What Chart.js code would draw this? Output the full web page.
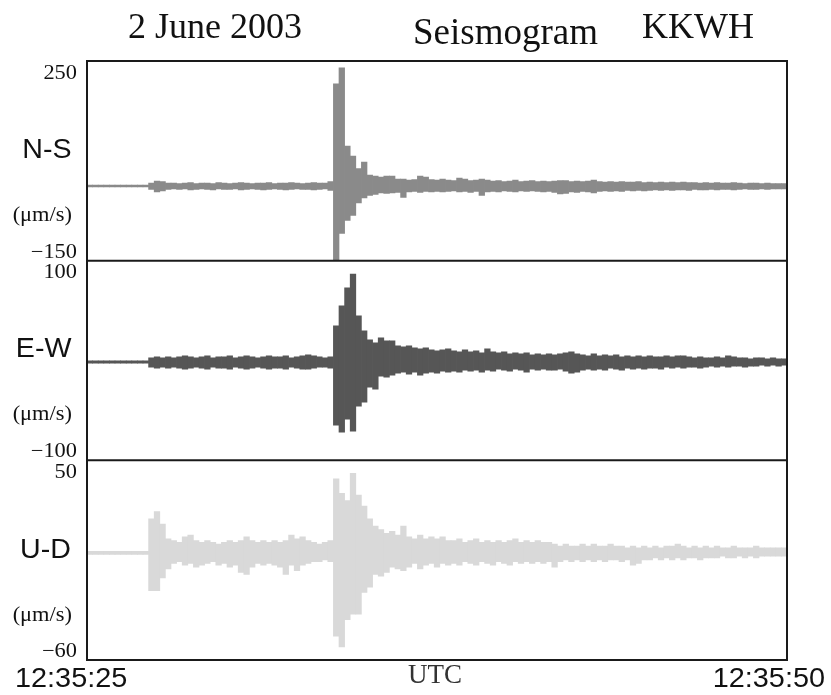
<!DOCTYPE html>
<html>
<head>
<meta charset="utf-8">
<title>Seismogram KKWH</title>
<script src="https://cdn.jsdelivr.net/npm/chart.js@4.4.0/dist/chart.umd.min.js"></script>
<style>
  html, body { margin: 0; padding: 0; background: #fff; }
  #wrap { position: relative; width: 831px; height: 695px; overflow: hidden; }
  #seis { position: absolute; left: 0; top: 0; }
  .lbl { position: absolute; white-space: nowrap; line-height: 1; color: #111; }
  .serif { font-family: "Liberation Serif", "Times New Roman", serif; }
  .sans { font-family: "Liberation Sans", Arial, sans-serif; }
  .comp { right: 760px; font-size: 27px; transform: scaleX(1.06); transform-origin: right top; }
  .unit { right: 759px; font-size: 20px; transform: scaleX(1.12); transform-origin: right top; }
  .time { font-size: 28px; top: 664px; transform: scaleX(1.03); }
</style>
</head>
<body>
<div id="wrap">
  <canvas id="seis" width="831" height="695"></canvas>

  <div class="lbl serif" style="left:128px; top:8px; font-size:36px;">2 June 2003</div>
  <div class="lbl serif" style="left:413px; top:13px; font-size:37px;">Seismogram</div>
  <div class="lbl serif" style="left:642px; top:8px; font-size:36px;">KKWH</div>

  <div class="lbl sans comp" style="top:136px;">N-S</div>
  <div class="lbl serif unit" style="top:204px;">(μm/s)</div>
  <div class="lbl sans comp" style="top:335px;">E-W</div>
  <div class="lbl serif unit" style="top:403px;">(μm/s)</div>
  <div class="lbl sans comp" style="top:536px;">U-D</div>
  <div class="lbl serif unit" style="top:604px;">(μm/s)</div>

  <div class="lbl sans time" id="tStart" style="left:15px; transform-origin:left top;"></div>
  <div class="lbl serif" id="tUnit" style="left:408px; top:661px; font-size:27px; color:#333;"></div>
  <div class="lbl sans time" id="tEnd" style="right:6px; transform-origin:right top;"></div>
</div>

<script>
// time axis: 12:35:25 -> 12:35:50, envelopes read in 0.2 s bins (125 bins)
const TIME_LABELS = ["12:35:25", "12:35:50"];
const TIME_TITLE = "UTC";

// y tick labels = axis limits (µm/s)
const NS_TICKS = [250, -150];
const EW_TICKS = [100, -100];
const UD_TICKS = [50, -60];

// N-S component: upper / lower envelope per bin
const NS_HI = [
  2,2,2,2,2,2,2,2,2,2,2,
  6,10,9,6,
  6,5,6,7,5,6,6,5,7,6, 5,6,7,6,5,6,6,7,5,6, 6,7,6,5,6,7,6,6,
  9,
  205,237,80,60,35,48,22,20,18,20,20,
  14,14,12,13,20,18,13,12,14,12, 11,16,14,11,12,14,12,10,11,9, 10,12,9,10,11,9,10,9,
  10,11,11,9,10,9,10,12,9,8, 9,8,9,8,8,9,7,8,7,8, 7,8,7,8,7,7,6,7,6,7, 6,6,7,6,5,6,6,5,6,5, 5,5
];
const NS_LO = [
  -3,-3,-3,-3,-3,-3,-3,-3,-3,-3,-3,
  -8,-13,-11,-8,
  -7,-8,-7,-9,-8,-7,-8,-9,-7,-8, -8,-7,-9,-8,-7,-8,-9,-8,-7,-8, -9,-8,-7,-8,-8,-9,-8,-7,
  -10,
  -150,-96,-70,-60,-35,-25,-20,-18,-15,-16,-15,
  -14,-24,-13,-12,-14,-12,-13,-12,-13,-12, -11,-13,-12,-14,-12,-20,-13,-12,-13,-11, -12,-13,-11,-12,-11,-12,-13,-12,
  -14,-17,-16,-13,-14,-12,-13,-15,-12,-11, -12,-11,-12,-10,-11,-10,-11,-10,-9,-10, -9,-10,-9,-9,-10,-8,-9,-9,-8,-9, -8,-8,-9,-8,-7,-8,-8,-7,-8,-7, -7,-7
];

// E-W component
const EW_HI = [
  0,0,0,0,0,0,0,0,0,0,0,
  3,4,3,4,
  3,4,5,4,3,4,5,3,4,4, 5,3,4,5,4,3,4,5,4,4, 5,3,4,5,6,5,4,3,
  4,
  35,55,73,87,45,30,21,18,23,20,20,
  15,14,15,13,12,13,11,10,11,12, 10,9,11,9,10,8,12,9,8,9, 7,8,7,8,6,7,6,7,
  6,7,8,9,7,6,5,7,5,6, 5,6,4,5,4,5,4,5,4,4, 5,4,5,5,4,3,4,3,3,4, 3,5,4,3,3,2,3,3,2,3, 2,2
];
const EW_LO = [
  -3,-3,-3,-3,-3,-3,-3,-3,-3,-3,-3,
  -7,-8,-7,-8,
  -7,-8,-9,-8,-7,-8,-9,-7,-8,-8, -9,-7,-8,-9,-8,-7,-8,-9,-8,-8, -9,-7,-8,-9,-9,-8,-7,-7,
  -8,
  -65,-72,-59,-71,-46,-42,-27,-29,-16,-17,-15,
  -13,-12,-14,-12,-15,-13,-12,-13,-11,-12, -11,-12,-10,-11,-10,-12,-10,-11,-9,-10, -11,-9,-10,-12,-9,-10,-9,-10,
  -10,-9,-11,-13,-12,-10,-9,-10,-9,-10, -8,-9,-10,-8,-9,-8,-9,-8,-8,-9, -7,-8,-7,-8,-7,-7,-8,-7,-6,-7, -6,-7,-6,-6,-7,-6,-6,-5,-6,-5, -6,-5
];

// U-D component
const UD_HI = [
  0,0,0,0,0,0,0,0,0,0,0,
  18,22,15,7,
  6,5,8,9,6,5,6,5,4,5, 6,5,6,8,6,5,6,5,6,5, 6,9,7,8,6,5,4,5,
  6,
  40,32,28,43,31,25,18,14,12,10,11,
  9,14,8,7,9,7,8,7,8,6, 6,7,5,6,7,5,6,5,6,5, 6,7,5,6,5,6,5,5,
  4,3,4,3,3,4,3,4,3,3, 4,3,3,2,3,2,3,2,3,2, 3,3,4,3,2,3,2,3,2,3, 2,2,3,2,2,2,3,2,2,2, 2,2
];
const UD_LO = [
  -2,-2,-2,-2,-2,-2,-2,-2,-2,-2,-2,
  -22,-22,-15,-10,
  -7,-6,-8,-7,-9,-8,-7,-6,-8,-7, -9,-8,-12,-13,-9,-7,-8,-7,-8,-9, -13,-8,-11,-8,-7,-6,-6,-5,
  -6,
  -47,-53,-38,-35,-35,-23,-20,-13,-14,-12,-9,
  -10,-11,-9,-7,-10,-8,-7,-9,-7,-8, -7,-8,-6,-7,-8,-6,-7,-8,-6,-7, -8,-6,-7,-6,-7,-6,-7,-6,
  -9,-6,-5,-6,-5,-6,-5,-6,-5,-6, -5,-5,-6,-5,-8,-7,-5,-5,-4,-5, -4,-5,-4,-5,-4,-4,-5,-4,-4,-4, -3,-4,-4,-3,-4,-3,-4,-3,-3,-3, -3,-3
];

const PANELS = [
  { axis: "yNS", ticks: NS_TICKS, hi: NS_HI, lo: NS_LO, color: "#8a8a8a", weight: 3 },
  { axis: "yEW", ticks: EW_TICKS, hi: EW_HI, lo: EW_LO, color: "#565656", weight: 2 },
  { axis: "yUD", ticks: UD_TICKS, hi: UD_HI, lo: UD_LO, color: "#d9d9d9", weight: 1 },
];

const BINS = NS_HI.map((_, i) => i);

function fmtTick(v) {
  return v < 0 ? "\u2212" + Math.abs(v) : String(v);
}

function yAxis(p) {
  return {
    type: "linear",
    position: "left",
    stack: "seis",
    stackWeight: 1,
    weight: p.weight,
    min: Math.min(...p.ticks),
    max: Math.max(...p.ticks),
    offset: false,
    ticks: { display: false },
    grid: { display: false },
    border: { display: false },
    afterFit: (s) => { s.width = 87; },
  };
}

// frame, panel dividers and the inset tick labels
const framePlugin = {
  id: "frame",
  afterDatasetsDraw(chart) {
    const { ctx, chartArea: a } = chart;
    ctx.save();
    ctx.strokeStyle = "#1a1a1a";
    ctx.lineWidth = 2;
    ctx.strokeRect(a.left, a.top, a.right - a.left, a.bottom - a.top);

    PANELS.forEach((p) => {
      const s = chart.scales[p.axis];
      if (s.top > a.top + 1) {
        ctx.beginPath();
        ctx.moveTo(a.left, s.top);
        ctx.lineTo(a.right, s.top);
        ctx.stroke();
      }

      ctx.fillStyle = "#111";
      ctx.font = "20px 'Liberation Serif', 'Times New Roman', serif";
      ctx.textAlign = "right";
      ctx.textBaseline = "alphabetic";
      const yTop = s.getPixelForValue(s.max) + 17.5;
      const yBot = s.getPixelForValue(s.min) - 3;
      [[p.ticks[0], yTop], [p.ticks[1], yBot]].forEach(([v, y]) => {
        ctx.save();
        ctx.translate(77, y);
        ctx.scale(1.12, 1);
        ctx.fillText(fmtTick(v), 0, 0);
        ctx.restore();
      });
    });
    ctx.restore();
  },
};

const scales = { x: { display: false } };
PANELS.forEach((p) => { scales[p.axis] = yAxis(p); });

new Chart(document.getElementById("seis"), {
  type: "bar",
  data: {
    labels: BINS,
    datasets: PANELS.map((p) => ({
      label: p.axis,
      data: p.lo.map((lo, i) => [lo, p.hi[i]]),
      yAxisID: p.axis,
      backgroundColor: p.color,
      borderWidth: 0,
      grouped: false,
      barPercentage: 1.12,
      categoryPercentage: 1,
    })),
  },
  options: {
    responsive: false,
    animation: false,
    devicePixelRatio: 1,
    layout: { padding: { top: 61, right: 44, bottom: 35, left: 0 } },
    plugins: { legend: { display: false }, tooltip: { enabled: false } },
    scales,
  },
  plugins: [framePlugin],
});

document.getElementById("tStart").textContent = TIME_LABELS[0];
document.getElementById("tEnd").textContent = TIME_LABELS[1];
document.getElementById("tUnit").textContent = TIME_TITLE;
</script>
</body>
</html>
